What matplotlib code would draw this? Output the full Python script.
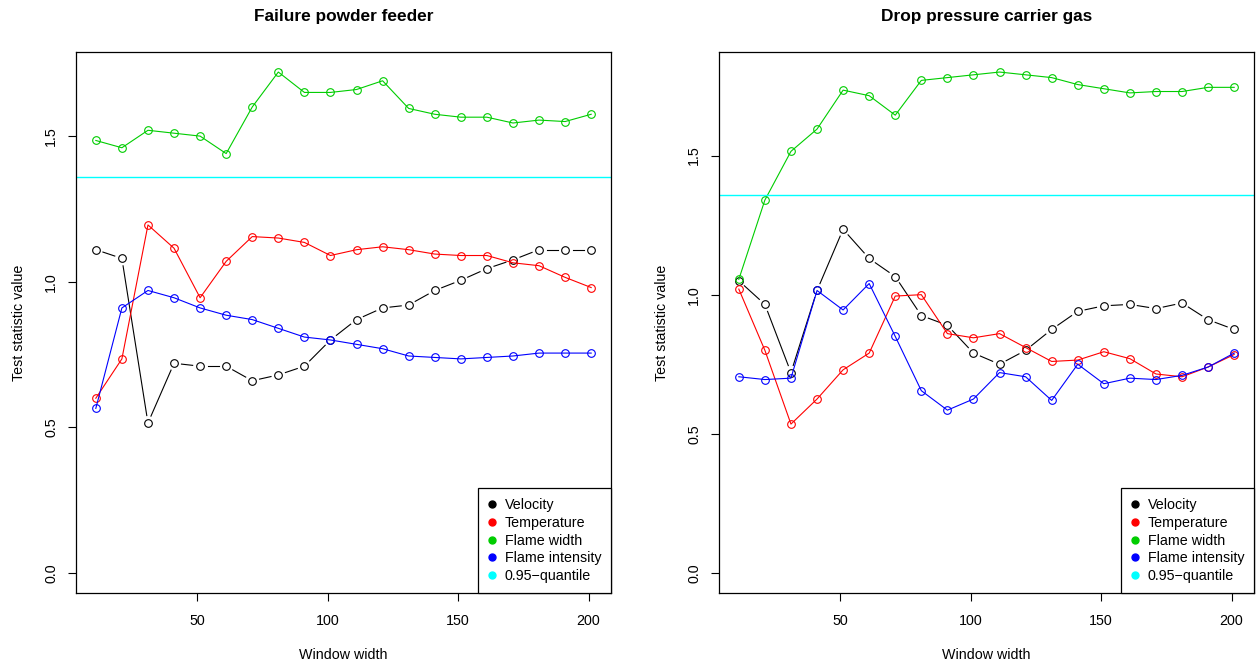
import numpy as np
import matplotlib.pyplot as plt
from matplotlib.lines import Line2D

plt.rcParams['font.family'] = ['Liberation Sans', 'DejaVu Sans']

window = [11, 21, 31, 41, 51, 61, 71, 81, 91, 101,
          111, 121, 131, 141, 151, 161, 171, 181, 191, 201]
quantile = 1.358

# Failure powder feeder
pf_velocity = [1.11, 1.08, 0.515, 0.72, 0.71, 0.71, 0.66, 0.68, 0.71, 0.80,
               0.87, 0.91, 0.92, 0.97, 1.005, 1.045, 1.075, 1.11, 1.11, 1.11]
pf_temperature = [0.60, 0.735, 1.195, 1.115, 0.945, 1.07, 1.155, 1.15, 1.135, 1.09,
                  1.11, 1.12, 1.11, 1.095, 1.09, 1.09, 1.065, 1.055, 1.015, 0.98]
pf_width = [1.485, 1.46, 1.52, 1.51, 1.50, 1.44, 1.60, 1.72, 1.65, 1.65,
            1.66, 1.69, 1.595, 1.575, 1.565, 1.565, 1.545, 1.555, 1.55, 1.575]
pf_intensity = [0.565, 0.91, 0.97, 0.945, 0.91, 0.885, 0.87, 0.84, 0.81, 0.80,
                0.785, 0.77, 0.745, 0.74, 0.735, 0.74, 0.745, 0.755, 0.755, 0.755]

# Drop pressure carrier gas
dp_velocity = [1.05, 0.965, 0.72, 1.015, 1.235, 1.13, 1.065, 0.925, 0.89, 0.79,
               0.75, 0.80, 0.875, 0.94, 0.96, 0.965, 0.95, 0.97, 0.91, 0.875]
dp_temperature = [1.02, 0.80, 0.535, 0.625, 0.73, 0.79, 0.995, 1.0, 0.86, 0.845,
                  0.86, 0.81, 0.76, 0.765, 0.795, 0.77, 0.715, 0.705, 0.74, 0.785]
dp_width = [1.055, 1.34, 1.515, 1.595, 1.735, 1.715, 1.645, 1.77, 1.78, 1.79,
            1.80, 1.79, 1.78, 1.755, 1.74, 1.725, 1.73, 1.73, 1.745, 1.745]
dp_intensity = [0.705, 0.695, 0.70, 1.015, 0.945, 1.04, 0.85, 0.655, 0.585, 0.625,
                0.72, 0.705, 0.62, 0.75, 0.68, 0.70, 0.695, 0.71, 0.74, 0.79]

labels = ['Velocity', 'Temperature', 'Flame width', 'Flame intensity', '0.95\u2212quantile']
colors = ['black', '#FF0000', '#00CD00', '#0000FF', '#00FFFF']

FS = 10.3


def gapped_line(ax, x, y, color, gap=7.5):
    # R type="b": segments stop short of the points
    pts = ax.transData.transform(np.column_stack([x, y]))
    inv = ax.transData.inverted()
    for p0, p1 in zip(pts[:-1], pts[1:]):
        d = p1 - p0
        L = np.hypot(*d)
        if L <= 2 * gap:
            continue
        u = d / L
        a, b = inv.transform([p0 + u * gap, p1 - u * gap])
        ax.plot([a[0], b[0]], [a[1], b[1]], color=color, lw=0.8)


def panel(ax, title, series):
    allv = np.concatenate(series)
    top = allv.max()
    ax.set_ylim(-0.04 * top, top * 1.04)
    xr = window[-1] - window[0]
    ax.set_xlim(window[0] - 0.04 * xr, window[-1] + 0.04 * xr)

    gapped_line(ax, window, series[0], colors[0])
    ax.plot(window, series[0], ls='none', marker='o', ms=5.5, mfc='none',
            mec=colors[0], mew=0.8)
    for s, c in zip(series[1:], colors[1:4]):
        ax.plot(window, s, color=c, lw=0.8, marker='o', ms=5.5, mfc='none',
                mec=c, mew=0.8)
    ax.axhline(quantile, color=colors[4], lw=1.0)

    ax.set_xticks([50, 100, 150, 200])
    ax.set_yticks([0.0, 0.5, 1.0, 1.5])
    ax.set_yticklabels(['0.0', '0.5', '1.0', '1.5'], rotation=90, va='center')
    ax.tick_params(direction='out', length=5.8, width=0.8, labelsize=FS)
    ax.tick_params(axis='x', pad=9)
    ax.tick_params(axis='y', pad=7)
    for sp in ax.spines.values():
        sp.set_linewidth(0.9)
    ax.set_title(title, fontsize=12.4, fontweight='bold', pad=22.5)
    ax.set_xlabel('Window width', fontsize=FS, labelpad=14.5)
    ax.set_ylabel('Test statistic value', fontsize=FS, labelpad=13)

    handles = [Line2D([], [], ls='none', marker='o', ms=5, color=c) for c in colors]
    leg = ax.legend(handles, labels, loc='lower right', borderaxespad=0,
                    fancybox=False, edgecolor='black', framealpha=1,
                    fontsize=FS, handlelength=0.6, handletextpad=0.6,
                    borderpad=0.68, labelspacing=0.27)
    leg.get_frame().set_linewidth(0.9)


fig = plt.figure(figsize=(12.6, 6.7), dpi=100)
ax1 = fig.add_axes([76 / 1260, 77 / 670, 535 / 1260, 541 / 670])
ax2 = fig.add_axes([719 / 1260, 77 / 670, 535 / 1260, 541 / 670])

panel(ax1, 'Failure powder feeder',
      [np.array(pf_velocity), np.array(pf_temperature), np.array(pf_width), np.array(pf_intensity)])
panel(ax2, 'Drop pressure carrier gas',
      [np.array(dp_velocity), np.array(dp_temperature), np.array(dp_width), np.array(dp_intensity)])

fig.savefig('out.png', dpi=100)
